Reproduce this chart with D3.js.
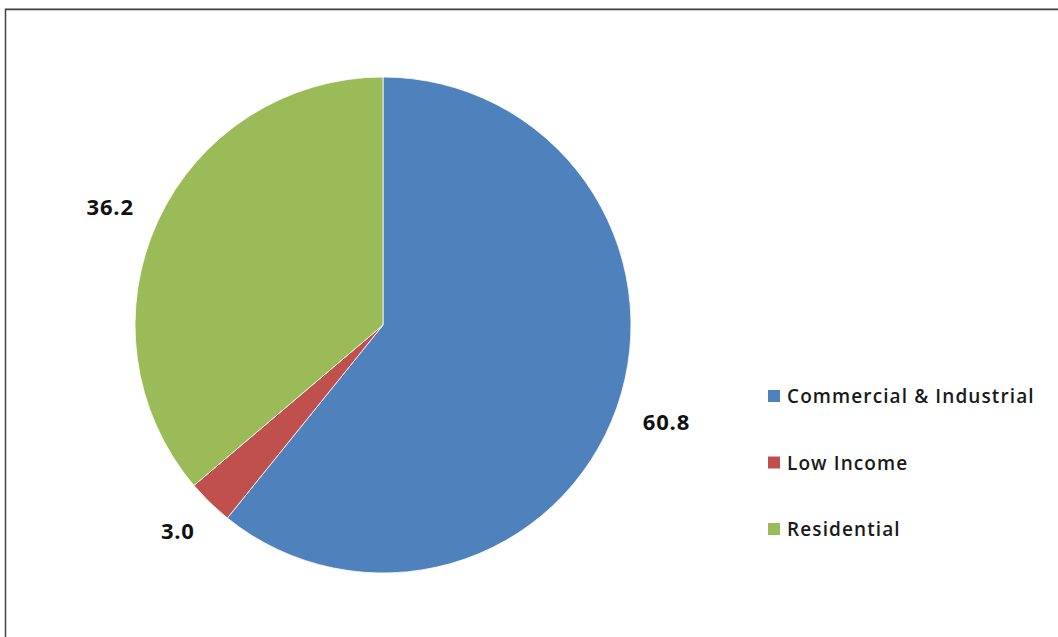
<!DOCTYPE html>
<html>
<head>
<meta charset="utf-8">
<script src="https://cdn.jsdelivr.net/npm/d3@7"></script>
<style>
  html, body { margin: 0; padding: 0; background: #fff; }
  svg { display: block; }
</style>
</head>
<body>
<svg id="chart" width="1058" height="637"></svg>
<script>
// Share by customer sector
const categories = ["Commercial & Industrial", "Low Income", "Residential"];
const values = [60.8, 3.0, 36.2];
const labels = ["60.8", "3.0", "36.2"];
const colors = ["#4F81BD", "#C0504D", "#9BBB59"];

const svg = d3.select("#chart");
const W = 1058, H = 637;

// chart frame
svg.append("line").attr("x1", 5).attr("x2", W).attr("y1", 8.5).attr("y2", 8.5)
  .attr("stroke", "#b8b8b8").attr("stroke-width", 1);
svg.append("rect").attr("x", 5.5).attr("y", 9.5).attr("width", W + 20).attr("height", H + 20)
  .attr("fill", "none").attr("stroke", "#444").attr("stroke-width", 1.5);

const cx = 383, cy = 325, r = 248;
const pie = d3.pie().sort(null).value(d => d);
const arcs = pie(values);
const arc = d3.arc().innerRadius(0).outerRadius(r);
const anchorR = 277;

const g = svg.append("g").attr("transform", `translate(${cx},${cy})`);
g.selectAll("path.slice").data(arcs).join("path")
  .attr("class", "slice")
  .attr("d", arc)
  .attr("fill", (d, i) => colors[i])
  .attr("stroke", "#fff")
  .attr("stroke-width", 0.8);

// value labels sit just outside the rim, pushed out by half their box
const vals = g.selectAll("text.val").data(arcs).join("text")
  .attr("class", "val")
  .attr("text-anchor", "middle")
  .attr("font-family", "'Open Sans', sans-serif")
  .attr("font-weight", "bold")
  .attr("font-size", 22)
  .attr("letter-spacing", 0.8)
  .attr("fill", "#111")
  .text((d, i) => labels[i]);

vals.each(function(d) {
  const bb = this.getBBox();
  const a = (d.startAngle + d.endAngle) / 2;
  const s = Math.sin(a), c = -Math.cos(a);
  const capH = 16;
  const x = anchorR * s + s * bb.width / 2;
  const y = anchorR * c + c * capH / 2 + 2;
  d3.select(this).attr("x", x).attr("y", y + capH / 2);
});

// legend
const legendY = d3.scalePoint().domain(categories).range([396, 529]);
const lg = svg.append("g");
const items = lg.selectAll("g").data(categories).join("g")
  .attr("transform", d => `translate(768,${legendY(d)})`);
items.append("rect").attr("x", 0).attr("y", -6).attr("width", 12).attr("height", 12)
  .attr("fill", (d, i) => colors[i]);
items.append("text").attr("x", 19).attr("y", 0)
  .attr("dominant-baseline", "central")
  .attr("font-family", "'Open Sans', sans-serif")
  .attr("font-weight", 600)
  .attr("font-size", 19)
  .attr("letter-spacing", 1.1)
  .attr("fill", "#1a1a1a")
  .text(d => d);
</script>
</body>
</html>
